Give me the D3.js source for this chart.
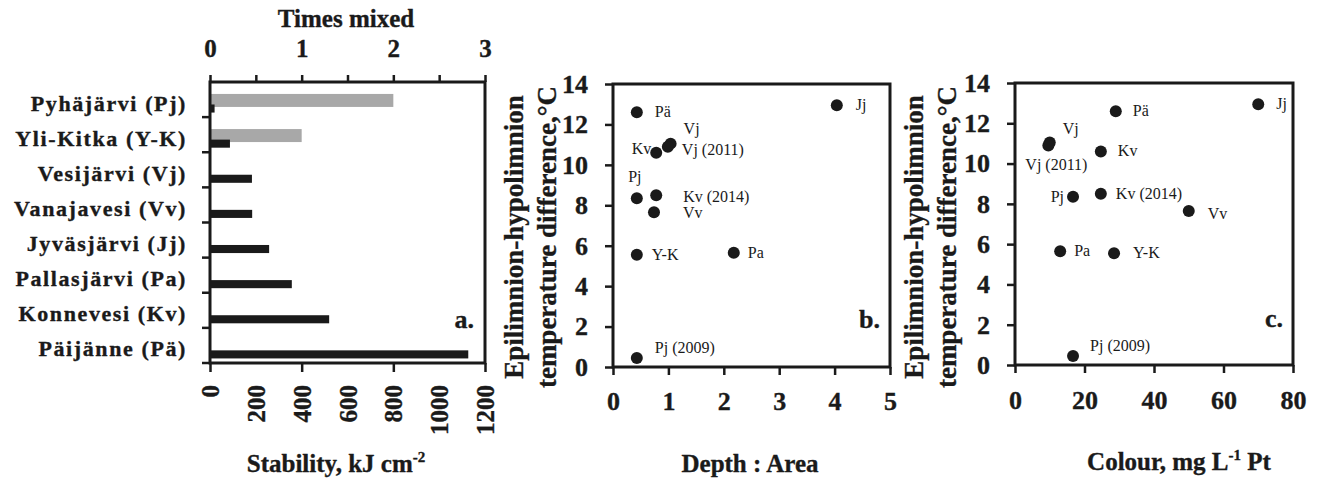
<!DOCTYPE html>
<html>
<head>
<meta charset="utf-8">
<script src="https://cdn.jsdelivr.net/npm/d3@7"></script>
<style>
  body { margin: 0; background: #fff; }
  svg { display: block; }
  text { font-family: "Liberation Serif", "Times New Roman", serif; fill: #1a1a1a; }
  text.heavy { stroke: #1a1a1a; stroke-width: 0.35px; }
</style>
</head>
<body>
<div id="chart"></div>
<script>
// panel a: stability and times mixed per lake
var lakes = ["Pyhäjärvi (Pj)", "Yli-Kitka (Y-K)", "Vesijärvi (Vj)", "Vanajavesi (Vv)",
             "Jyväsjärvi (Jj)", "Pallasjärvi (Pa)", "Konnevesi (Kv)", "Päijänne (Pä)"];
var stability = [20, 87, 183, 184, 258, 357, 520, 1127];
var timesMixed = [2, 1, 0, 0, 0, 0, 0, 0];
var stabTicks = [0, 200, 400, 600, 800, 1000, 1200];
var mixTicks = [0, 1, 2, 3];

// panels b and c: temperature difference vs depth:area and colour
var pointLabels = ["Pä", "Jj", "Vj", "Vj (2011)", "Kv", "Pj", "Kv (2014)", "Vv", "Y-K", "Pa", "Pj (2009)"];
var tempDiff   = [12.6, 12.95, 11.05, 10.9, 10.6, 8.35, 8.5, 7.65, 5.55, 5.65, 0.45];
var depthArea  = [0.43, 4.04, 1.04, 0.99, 0.78, 0.43, 0.78, 0.74, 0.43, 2.18, 0.43];
var colour     = [29, 70, 10, 9.6, 24.7, 16.7, 24.7, 50, 28.5, 13, 16.7];
var tempTicks = [0, 2, 4, 6, 8, 10, 12, 14];
var depthTicks = [0, 1, 2, 3, 4, 5];
var colourTicks = [0, 20, 40, 60, 80];

// label placement [dx, dy, anchor] for each point
var labelPosB = [[18,5,"start"],[19,5,"start"],[13,-10,"start"],[14,8,"start"],[-5,1,"end"],[-2,-16,"middle"],
                 [27,7,"start"],[29,6,"start"],[15,5,"start"],[14,5,"start"],[18,-5,"start"]];
var labelPosC = [[17,5,"start"],[18,5,"start"],[13,-8,"start"],[8,25,"middle"],[17,5,"start"],[-9,5,"end"],
                 [15,5,"start"],[19,8,"start"],[19,5,"start"],[14,5,"start"],[17,-5,"start"]];

var W = 1324, H = 478;
var ink = "#1a1a1a";
var svg = d3.select("#chart").append("svg").attr("width", W).attr("height", H);

function styleAxis(g, fs) {
  g.select(".domain").remove();
  g.selectAll(".tick line").attr("stroke", ink).attr("stroke-width", 2.5);
  g.selectAll(".tick text").attr("font-size", fs).attr("font-weight", "bold")
    .attr("class", "heavy").attr("fill", ink);
}

// ---------- panel a ----------
var a = {left: 210, right: 485, top: 82, bottom: 363};
var xStab = d3.scaleLinear().domain([0, 1200]).range([a.left, a.right]);
var xMix = d3.scaleLinear().domain([0, 3]).range([a.left, a.right]);
var yLake = d3.scaleBand().domain(lakes).range([a.top, a.bottom]);
var bw = yLake.bandwidth();

var ga = svg.append("g");
ga.selectAll("rect.mix").data(lakes).enter().append("rect").attr("class", "mix")
  .attr("x", xMix(0))
  .attr("y", function(d) { return yLake(d) + bw * 0.34; })
  .attr("width", function(d, i) { return xMix(timesMixed[i]) - xMix(0); })
  .attr("height", bw * 0.37)
  .attr("fill", "#a8a8a8");
ga.selectAll("rect.stab").data(lakes).enter().append("rect").attr("class", "stab")
  .attr("x", xStab(0))
  .attr("y", function(d) { return yLake(d) + bw * 0.64; })
  .attr("width", function(d, i) { return xStab(stability[i]) - xStab(0); })
  .attr("height", bw * 0.23)
  .attr("fill", ink);

// category boundary ticks
ga.selectAll("line.cat").data(lakes).enter().append("line").attr("class", "cat")
  .attr("x1", a.left - 8).attr("x2", a.left)
  .attr("y1", function(d) { return yLake(d) + yLake.step(); })
  .attr("y2", function(d) { return yLake(d) + yLake.step(); })
  .attr("stroke", ink).attr("stroke-width", 2.5);
ga.selectAll("text.cat").data(lakes).enter().append("text").attr("class", "heavy")
  .attr("x", 187)
  .attr("y", function(d) { return yLake(d) + bw / 2 + 11; })
  .attr("text-anchor", "end").attr("font-size", 22).attr("font-weight", "bold")
  .attr("letter-spacing", 1.6)
  .text(function(d) { return d; });

var topAxis = d3.axisTop(xMix).tickValues(d3.range(0, 3.01, 0.5)).tickSize(7).tickPadding(18)
  .tickFormat(function(d) { return mixTicks.indexOf(d) >= 0 ? d : ""; });
ga.append("g").attr("transform", "translate(0," + a.top + ")").call(topAxis).call(styleAxis, 25);

var botAxis = d3.axisBottom(xStab).tickValues([0, 400, 800, 1200]).tickSize(9).tickFormat("");
ga.append("g").attr("transform", "translate(0," + a.bottom + ")").call(botAxis).call(styleAxis, 25);
ga.selectAll("text.stabtick").data(stabTicks).enter().append("text").attr("class", "heavy")
  .attr("transform", function(d) { return "translate(" + (xStab(d) + 9) + ",385) rotate(-90)"; })
  .attr("text-anchor", "end").attr("font-size", 25).attr("font-weight", "bold")
  .text(function(d) { return d; });

ga.append("rect").attr("x", a.left).attr("y", a.top)
  .attr("width", a.right - a.left).attr("height", a.bottom - a.top)
  .attr("fill", "none").attr("stroke", ink).attr("stroke-width", 3);

ga.append("text").attr("class", "heavy").attr("x", 346).attr("y", 27).attr("text-anchor", "middle")
  .attr("font-size", 25).attr("font-weight", "bold").text("Times mixed");
var st = ga.append("text").attr("class", "heavy").attr("x", 336).attr("y", 472).attr("text-anchor", "middle")
  .attr("font-size", 25).attr("font-weight", "bold");
st.append("tspan").text("Stability, kJ cm");
st.append("tspan").attr("font-size", 15).attr("dy", -10).text("-2");
ga.append("text").attr("class", "heavy").attr("x", 474).attr("y", 328).attr("text-anchor", "end")
  .attr("font-size", 26).attr("font-weight", "bold").text("a.");

// ---------- scatter panels ----------
function scatter(box, xVals, xDomain, xTicks, pos, tag, titleBase) {
  var x = d3.scaleLinear().domain(xDomain).range([box.left, box.right]);
  var y = d3.scaleLinear().domain([0, 14]).range([box.bottom, box.top]);
  var g = svg.append("g");

  g.append("g").attr("transform", "translate(" + box.left + ",0)")
    .call(d3.axisLeft(y).tickValues(tempTicks).tickSize(8).tickPadding(17).tickFormat(d3.format("d")))
    .call(styleAxis, 26);
  g.append("g").attr("transform", "translate(0," + box.bottom + ")")
    .call(d3.axisBottom(x).tickValues(xTicks).tickSize(8).tickPadding(box.xpad).tickFormat(d3.format("d")))
    .call(styleAxis, 26);
  g.append("rect").attr("x", box.left).attr("y", box.top)
    .attr("width", box.right - box.left).attr("height", box.bottom - box.top)
    .attr("fill", "none").attr("stroke", ink).attr("stroke-width", 3);

  g.selectAll("circle").data(pointLabels).enter().append("circle")
    .attr("cx", function(d, i) { return x(xVals[i]); })
    .attr("cy", function(d, i) { return y(tempDiff[i]); })
    .attr("r", 6).attr("fill", ink);
  g.selectAll("text.pt").data(pointLabels).enter().append("text").attr("class", "pt")
    .attr("x", function(d, i) { return x(xVals[i]) + pos[i][0]; })
    .attr("y", function(d, i) { return y(tempDiff[i]) + pos[i][1]; })
    .attr("text-anchor", function(d, i) { return pos[i][2]; })
    .attr("font-size", 16)
    .text(function(d) { return d; });

  g.append("text").attr("class", "heavy").attr("x", box.right - 10).attr("y", box.top + 244)
    .attr("text-anchor", "end").attr("font-size", 26).attr("font-weight", "bold").text(tag);

  var cy = 237;
  g.append("text").attr("class", "heavy")
    .attr("transform", "translate(" + titleBase[0] + "," + cy + ") rotate(-90)")
    .attr("text-anchor", "middle").attr("font-size", 27).attr("font-weight", "bold")
    .text("Epilimnion-hypolimnion");
  g.append("text").attr("class", "heavy")
    .attr("transform", "translate(" + titleBase[1] + "," + cy + ") rotate(-90)")
    .attr("text-anchor", "middle").attr("font-size", 27).attr("font-weight", "bold")
    .text("temperature difference,°C");
  return g;
}

var gb = scatter({left: 613, right: 890, top: 84, bottom: 367, xpad: 17}, depthArea, [0, 5], depthTicks,
  labelPosB, "b.", [523, 556]);
gb.append("text").attr("class", "heavy").attr("x", 750).attr("y", 472).attr("text-anchor", "middle")
  .attr("font-size", 25).attr("font-weight", "bold").text("Depth : Area");

var gc = scatter({left: 1015, right: 1293, top: 83, bottom: 365, xpad: 18}, colour, [0, 80], colourTicks,
  labelPosC, "c.", [923, 956]);
var ct = gc.append("text").attr("class", "heavy").attr("x", 1179).attr("y", 470).attr("text-anchor", "middle")
  .attr("font-size", 25).attr("font-weight", "bold");
ct.append("tspan").text("Colour, mg L");
ct.append("tspan").attr("font-size", 15).attr("dy", -10).text("-1");
ct.append("tspan").attr("dy", 10).text(" Pt");
</script>
</body>
</html>
